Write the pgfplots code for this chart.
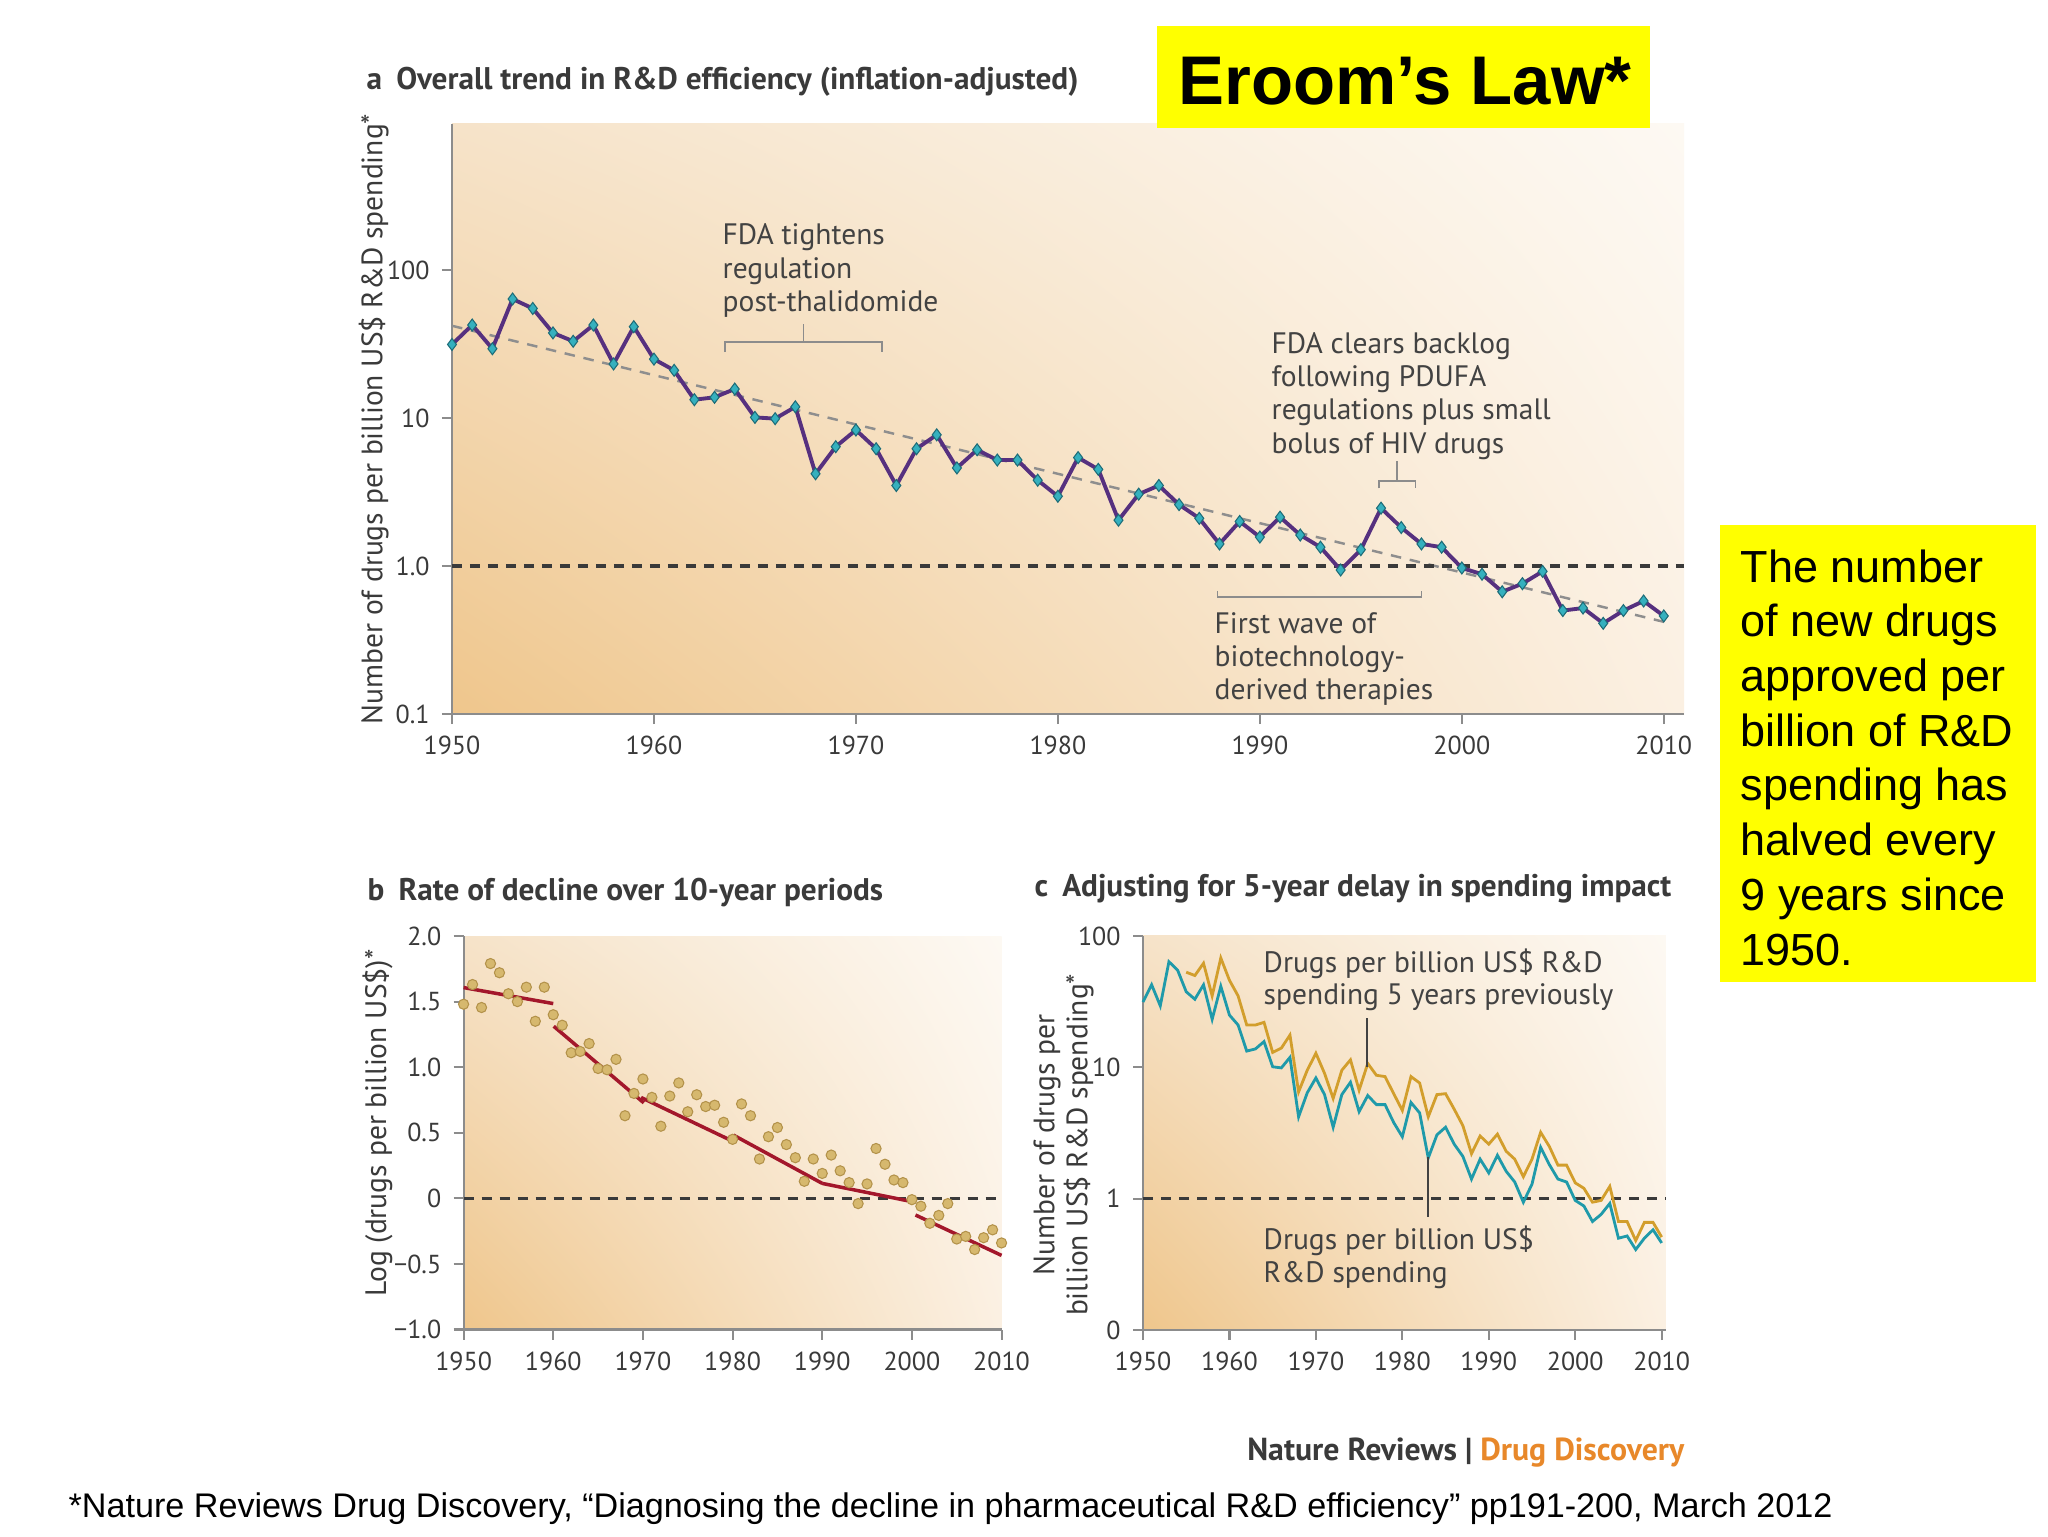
\documentclass[border=0pt]{standalone}
\usepackage{fontspec}
\setmainfont{PT Sans}
\newfontfamily\arial{Liberation Sans}
\usepackage{graphicx}
\usepackage{pgfplots}
\pgfplotsset{compat=1.18}
\usepackage{pgfplotstable}
\usetikzlibrary{shadings}

\definecolor{txt}{HTML}{3A3A3A}
\definecolor{anntxt}{HTML}{424242}
\definecolor{axgray}{HTML}{8C8C8C}
\definecolor{trendgray}{HTML}{8E8E8E}
\definecolor{purp}{HTML}{56307F}
\definecolor{mteal}{HTML}{35B0BE}
\definecolor{dteal}{HTML}{1D6C78}
\definecolor{cteal}{HTML}{1F9AAA}
\definecolor{cgold}{HTML}{D29E2C}
\definecolor{dred}{HTML}{A3172B}
\definecolor{dotfill}{HTML}{D6B86E}
\definecolor{dotdraw}{HTML}{B3924A}
\definecolor{bgLL}{HTML}{EFC68C}
\definecolor{bgUL}{HTML}{F6E3C9}
\definecolor{bgUR}{HTML}{FDF9F3}
\definecolor{bgLR}{HTML}{FBF0E2}
\definecolor{ndorange}{HTML}{E8882A}
\definecolor{yel}{HTML}{FFFF00}

% drugs per billion US$ R&D spending (panel a, teal line in panel c)
\pgfplotstableread{
year val
1950 31.4
1951 42.5
1952 29.4
1953 63.7
1954 55
1955 37.6
1956 33
1957 42.5
1958 23.2
1959 41.4
1960 25
1961 21
1962 13.3
1963 13.8
1964 15.7
1965 10.1
1966 9.9
1967 11.9
1968 4.2
1969 6.4
1970 8.3
1971 6.2
1972 3.5
1973 6.2
1974 7.7
1975 4.6
1976 6.1
1977 5.2
1978 5.2
1979 3.8
1980 2.96
1981 5.4
1982 4.5
1983 2.04
1984 3.06
1985 3.5
1986 2.6
1987 2.1
1988 1.41
1989 2.0
1990 1.57
1991 2.14
1992 1.62
1993 1.34
1994 0.94
1995 1.29
1996 2.46
1997 1.82
1998 1.41
1999 1.34
2000 0.97
2001 0.88
2002 0.67
2003 0.76
2004 0.92
2005 0.50
2006 0.52
2007 0.41
2008 0.50
2009 0.58
2010 0.46
}\dataA

% log values (panel b)
\pgfplotstableread{
year lg
1950 1.48
1951 1.63
1952 1.455
1953 1.79
1954 1.72
1955 1.56
1956 1.50
1957 1.61
1958 1.35
1959 1.61
1960 1.40
1961 1.32
1962 1.11
1963 1.12
1964 1.18
1965 0.99
1966 0.98
1967 1.06
1968 0.63
1969 0.80
1970 0.91
1971 0.77
1972 0.55
1973 0.78
1974 0.88
1975 0.66
1976 0.79
1977 0.70
1978 0.71
1979 0.58
1980 0.45
1981 0.72
1982 0.63
1983 0.30
1984 0.47
1985 0.54
1986 0.41
1987 0.31
1988 0.13
1989 0.30
1990 0.19
1991 0.33
1992 0.21
1993 0.12
1994 -0.04
1995 0.11
1996 0.38
1997 0.26
1998 0.14
1999 0.12
2000 -0.01
2001 -0.06
2002 -0.19
2003 -0.13
2004 -0.04
2005 -0.31
2006 -0.29
2007 -0.39
2008 -0.30
2009 -0.24
2010 -0.34
}\dataB

% drugs per billion US$ R&D spending 5 years previously (panel c)
\pgfplotstableread{
year val
1955 53
1956 50
1957 62
1958 35
1959 68
1960 46
1961 35
1962 21
1963 21
1964 22
1965 13
1966 14
1967 17.6
1968 6.5
1969 9.5
1970 12.8
1971 9
1972 5.8
1973 9.5
1974 11.4
1975 6.7
1976 10.7
1977 8.7
1978 8.5
1979 6.3
1980 4.7
1981 8.5
1982 7.6
1983 4.2
1984 6.2
1985 6.3
1986 4.8
1987 3.6
1988 2.2
1989 3.0
1990 2.6
1991 3.1
1992 2.3
1993 2.0
1994 1.47
1995 2.0
1996 3.2
1997 2.5
1998 1.8
1999 1.8
2000 1.32
2001 1.2
2002 0.94
2003 0.97
2004 1.24
2005 0.67
2006 0.67
2007 0.48
2008 0.66
2009 0.66
2010 0.51
}\dataC

\newcommand\annfont{\fontsize{8.4pt}{9.4pt}\selectfont}
\newcommand\titfont{\fontsize{8.9pt}{10pt}\selectfont\bfseries}

\pgfplotsset{chart/.style={
  scale only axis, clip=false,
  axis x line*=bottom, axis y line*=left,
  every outer x axis line/.append style={-},
  every outer y axis line/.append style={-},
  axis line style={axgray,line width=0.6pt,-},
  tick style={axgray,line width=0.6pt},
  tick align=outside, major tick length=1mm,
  tick label style={font=\fontsize{7.4pt}{8.4pt}\selectfont, text=txt},
  label style={font=\annfont, text=txt},
  axis background/.style={shade, upper left=bgUL, upper right=bgUR, lower left=bgLL, lower right=bgLR},
  xtick={1950,1960,1970,1980,1990,2000,2010},
  xticklabels={1950,1960,1970,1980,1990,2000,2010},
  xminorticks=false, yminorticks=false,
}}

\begin{document}
\begin{tikzpicture}[x=0.1mm,y=0.1mm]
\path[use as bounding box, fill=white] (0,0) rectangle (2048,1536);

% ---------- panel a ----------
\begin{axis}[chart, at={(45.2mm,82.2mm)}, anchor=south west,
  width=123.2mm, height=59mm,
  ymode=log, xmin=1950, xmax=2011, ymin=0.1, ymax=970,
  ytick={0.1,1,10,100}, yticklabels={0.1,1.0,10,100},
  ylabel={Number of drugs per billion US\$ R\&D spending*},
  ylabel style={at={(axis description cs:-0.0635,0.5)}, anchor=center}]
\addplot[trendgray, dash pattern=on 3pt off 2.5pt, line width=0.7pt] coordinates {(1950,42) (2010.3,0.41)};
\addplot[txt, dash pattern=on 1mm off 0.8mm, line width=0.9pt] coordinates {(1950,1) (2011,1)};
\addplot[purp, line width=1.1pt, mark=diamond*, mark size=1.7pt,
  mark options={fill=mteal, draw=dteal, line width=0.3pt, solid}] table[x=year,y=val] {\dataA};
% annotation brackets
\draw[axgray, line width=0.5pt] (axis cs:1963.5,27.9) -- (axis cs:1963.5,32.6) -- (axis cs:1971.3,32.6) -- (axis cs:1971.3,27.9);
\draw[axgray, line width=0.5pt] (axis cs:1967.4,32.6) -- (axis cs:1967.4,43.2);
\draw[axgray, line width=0.5pt] (axis cs:1995.9,3.35) -- (axis cs:1995.9,3.75) -- (axis cs:1997.7,3.75) -- (axis cs:1997.7,3.35);
\draw[axgray, line width=0.5pt] (axis cs:1996.8,3.75) -- (axis cs:1996.8,5.1);
\draw[axgray, line width=0.5pt] (axis cs:1987.9,0.68) -- (axis cs:1987.9,0.617) -- (axis cs:1998.0,0.617) -- (axis cs:1998.0,0.68);
\end{axis}

% ---------- panel b ----------
\begin{axis}[chart, at={(46.36mm,20.65mm)}, anchor=south west,
  width=53.8mm, height=39.35mm,
  xmin=1950, xmax=2010, ymin=-1, ymax=2,
  ytick={-1,-0.5,0,0.5,1,1.5,2}, yticklabels={−1.0,−0.5,0,0.5,1.0,1.5,2.0},
  ylabel={Log (drugs per billion US\$)*},
  ylabel style={at={(axis description cs:-0.16,0.525)}, anchor=center}]
\addplot[txt, dash pattern=on 1mm off 0.8mm, line width=0.9pt] coordinates {(1950,0) (2010,0)};
\addplot[only marks, mark=*, mark size=1.45pt, mark options={fill=dotfill, draw=dotdraw, line width=0.3pt}] table[x=year,y=lg] {\dataB};
\addplot[dred, line width=1pt] coordinates {(1950,1.607) (1960,1.485)};
\addplot[dred, line width=1pt] coordinates {(1960.05,1.312) (1970.1,0.728)};
\addplot[dred, line width=1pt] coordinates {(1969.8,0.769) (1979.6,0.449)};
\addplot[dred, line width=1pt] coordinates {(1980.1,0.482) (1990.0,0.114)};
\addplot[dred, line width=1pt] coordinates {(1990.0,0.114) (1999.5,-0.018)};
\addplot[dred, line width=1pt] coordinates {(2000.4,-0.127) (2010,-0.435)};
\end{axis}

% ---------- panel c ----------
\begin{axis}[chart, at={(114.3mm,20.6mm)}, anchor=south west,
  width=52.3mm, height=39.4mm,
  xmin=1950, xmax=2010.5, ymode=log, ymin=0.1, ymax=100,
  ytick={0.1,1,10,100}, yticklabels={0,1,10,100},
  ylabel={Number of drugs per\\billion US\$ R\&D spending*},
  ylabel style={align=center, at={(axis description cs:-0.152,0.47)}, anchor=center}]
\addplot[txt, dash pattern=on 1mm off 0.8mm, line width=0.9pt] coordinates {(1950,1) (2010.5,1)};
\addplot[cteal, line width=0.8pt] table[x=year,y=val] {\dataA};
\addplot[cgold, line width=0.8pt] table[x=year,y=val] {\dataC};
\draw[anntxt, line width=0.5pt] (axis cs:1975.9,23.6) -- (axis cs:1975.9,10.1);
\draw[anntxt, line width=0.5pt] (axis cs:1983.0,2.09) -- (axis cs:1983.0,0.73);
\end{axis}

% ---------- titles ----------
\node[anchor=base west, font=\titfont, text=txt, inner sep=0] at (366,1446) {a\hspace{0.45em}Overall trend in R\&D efficiency (inflation-adjusted)};
\node[anchor=base west, font=\titfont, text=txt, inner sep=0] at (367,636) {b\hspace{0.45em}Rate of decline over 10-year periods};
\node[anchor=base west, font=\titfont, text=txt, inner sep=0] at (1034,640) {c\hspace{0.45em}Adjusting for 5-year delay in spending impact};

% ---------- annotations ----------
\begin{scope}[every node/.style={anchor=base west, font=\annfont, text=anntxt, inner sep=0}]
\node at (722,1291) {FDA tightens};
\node at (722,1257) {regulation};
\node at (722,1224) {post-thalidomide};
\node at (1271,1182) {FDA clears backlog};
\node at (1271,1149) {following PDUFA};
\node at (1271,1116) {regulations plus small};
\node at (1271,1083) {bolus of HIV drugs};
\node at (1214,903) {First wave of};
\node at (1214,870) {biotechnology-};
\node at (1214,837) {derived therapies};
\node at (1263,564) {Drugs per billion US\$ R\&D};
\node at (1263,532) {spending 5 years previously};
\node at (1263,287) {Drugs per billion US\$};
\node at (1263,254) {R\&D spending};
\end{scope}

% ---------- source line ----------
\node[anchor=base east, inner sep=0] at (1685,76) {\resizebox{43.7mm}{!}{\bfseries\textcolor{txt}{Nature Reviews} \textcolor{txt}{|} \textcolor{ndorange}{Drug Discovery}}};

% ---------- Eroom's Law box ----------
\fill[yel] (1157,1408) rectangle (1650,1510);
\node[anchor=base, inner sep=0, font=\arial\fontsize{19.6pt}{23pt}\selectfont\bfseries] at (1405,1431) {Eroom’s Law*};

% ---------- right text box ----------
\fill[yel] (1720,554) rectangle (2036,1011);
\begin{scope}[every node/.style={anchor=base west, inner sep=0, font=\arial\fontsize{12.8pt}{15.6pt}\selectfont}]
\node at (1740,954) {The number};
\node at (1740,899.3) {of new drugs};
\node at (1740,844.6) {approved per};
\node at (1740,789.9) {billion of R\&D};
\node at (1740,735.2) {spending has};
\node at (1740,680.5) {halved every};
\node at (1740,625.8) {9 years since};
\node at (1740,571) {1950.};
\end{scope}

% ---------- footnote ----------
\node[anchor=base west, inner sep=0] at (68,19) {\resizebox{176.4mm}{!}{\arial\fontsize{9pt}{10pt}\selectfont *Nature Reviews Drug Discovery, “Diagnosing the decline in pharmaceutical R\&D efficiency” pp191-200, March 2012}};
\end{tikzpicture}
\end{document}
